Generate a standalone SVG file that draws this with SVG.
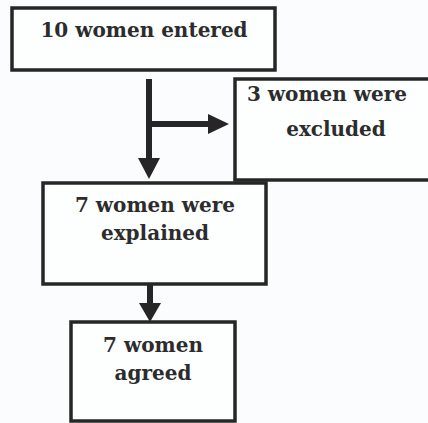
<svg xmlns="http://www.w3.org/2000/svg" width="428" height="423" viewBox="0 0 428 423">
  <style>
    .box { fill: #fdfefe; stroke: #262626; stroke-width: 3.5; }
    .lbl { font-family: "DejaVu Serif", "Liberation Serif", serif; font-size: 20px; font-weight: bold; fill: #2c2c2c; text-anchor: middle; }
    .conn { stroke: #262626; stroke-width: 6; fill: none; }
    .head { fill: #262626; }
  </style>
  <rect width="428" height="423" fill="#fbfcfd"/>
  <g id="connectors">
    <line class="conn" x1="149" y1="79" x2="149" y2="160"/>
    <polygon class="head" points="138,158 160,158 149,179"/>
    <line class="conn" x1="149" y1="124" x2="210" y2="124"/>
    <polygon class="head" points="208,114 208,134 229,124"/>
    <line class="conn" x1="150" y1="284" x2="150" y2="305"/>
    <polygon class="head" points="139,303 161,303 150,322"/>
  </g>
  <g id="n1">
    <rect class="box" x="12" y="8" width="263" height="62"/>
    <text class="lbl" x="144" y="37">10 women entered</text>
  </g>
  <g id="n2">
    <rect class="box" x="235" y="79" width="210" height="101"/>
    <text class="lbl" x="327" y="101">3 women were</text>
    <text class="lbl" x="336" y="136">excluded</text>
  </g>
  <g id="n3">
    <rect class="box" x="43" y="183" width="223" height="101"/>
    <text class="lbl" x="155" y="212">7 women were</text>
    <text class="lbl" x="155" y="240">explained</text>
  </g>
  <g id="n4">
    <rect class="box" x="71" y="322" width="164" height="99"/>
    <text class="lbl" x="153" y="352">7 women</text>
    <text class="lbl" x="153" y="380">agreed</text>
  </g>
</svg>
